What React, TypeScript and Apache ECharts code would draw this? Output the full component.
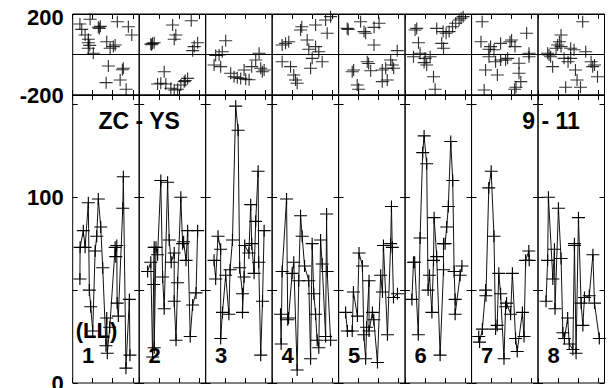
import React, { useEffect, useRef } from 'react';
import * as echarts from 'echarts';

// ---------- data ----------
const groupNames = ['1', '2', '3', '4', '5', '6', '7', '8'];
const leftTitle = 'ZC - YS';
const rightTitle = '9 - 11';
const unitLabel = '(LL)';
const topTickLabels = ['200', '-200'];
const bottomTickLabels = ['100', '0'];

// top panel scatter (x within group 0..33, y -200..200)
const top1 = [[8.7,174],[3.6,151],[4.5,124],[6.2,96],[7.8,75],[7.8,58],[13.3,129],[13.8,139],[12.8,135],[22.3,162],[27.8,137],[29.5,96],[17,63],[21.2,47],[20.3,39],[18.7,31],[7.8,31],[10.3,6],[8.5,45],[17.8,-57],[25.3,-68],[24.8,-75],[16.7,-139],[23.7,-126],[26.7,-172]];
const top2 = [[6.7,55],[5.8,52],[7.5,58],[6.2,48],[16.7,146],[26,167],[18.3,96],[17.5,75],[29.2,58],[27.5,39],[26.7,19],[12.5,-85],[10.8,-142],[13.3,-146],[15.8,-167],[19.2,-172],[20.8,-151],[22.5,-134],[24.2,-118],[9.2,-146],[17.5,-175],[23,-128]];
const top3 = [[10,68],[8.3,14],[6.7,-2],[5,-5],[4.2,-52],[7.5,-60],[12.5,-93],[14.2,-110],[15.8,-115],[17.5,-118],[20,-122],[21.7,-125],[19.2,-77],[25,-27],[26.7,6],[28.3,-85],[29.2,-77],[27.5,-68],[23,-60]];
const top4 = [[6.7,55],[5,47],[8.3,63],[14.2,121],[14.8,137],[21.7,146],[26.7,170],[29.2,187],[27.5,105],[17.5,72],[18.3,26],[21.7,39],[23.3,14],[20,-19],[25,-36],[19.2,-68],[5,-36],[9.2,-60],[10.8,-101],[12.5,-142],[11.7,-126]];
const top5 = [[4.3,129],[4.8,124],[11,162],[12.7,113],[13.5,105],[20.2,154],[17.7,134],[17.7,47],[29.3,19],[14.3,-36],[15,-44],[26,-27],[26.8,-52],[27.5,-68],[21.8,-77],[23.5,-68],[16,-80],[6.8,-85],[7.5,-77],[9.3,-151],[10,-172],[24.3,-126],[21.8,-134]];
const top6 = [[5,121],[5.8,129],[15.8,129],[19,113],[20.5,105],[22,113],[23.7,137],[25.3,154],[27,170],[28,179],[29,187],[6.7,58],[18.3,55],[19.2,31],[4.2,-11],[7.5,6],[10,-19],[10.8,-52],[12.5,-11],[14.2,-110],[15,-172],[9.5,-40]];
const top7 = [[5.3,162],[4.7,63],[9.5,39],[8.7,26],[11.2,23],[14.5,55],[19.2,63],[20,72],[21.7,39],[27.5,105],[28.7,6],[28.7,-11],[8.7,-11],[12,-36],[14.5,-27],[17,-27],[18,-19],[23.7,-43],[7,-77],[12.9,-101],[23.7,-93],[24.6,-134],[22.2,-162],[21.5,-172],[6.3,-175]];
const top8 = [[22.3,162],[11.5,96],[10.7,63],[9.8,47],[9,31],[11.5,39],[16.3,31],[18,23],[23.8,14],[4.8,6],[5.5,-2],[6.3,-11],[7.3,-60],[13,-19],[16.3,-19],[15,-36],[26.5,-36],[27.3,-60],[28.2,-52],[29.7,-110],[18.7,-77],[19.5,-126],[21.2,-162],[13.8,-162]];

// bottom panel lines (x within group 0..33, y 0..155)
const low1 = [[3.6,56],[3.7,73],[5.3,82],[6.2,73],[7.8,97],[8.3,50],[9,41],[10,28],[11.2,71],[12,79],[12.8,99],[14,84],[15,62],[16.6,20],[17,35],[17.3,16],[18.5,30],[21.2,73],[21.5,68],[22,74],[22.2,43],[22.8,36],[25,94],[25.3,111],[26.6,8],[28.3,45],[28.6,15]];
const low2 = [[4.2,60],[5.8,65],[6.7,14],[7.2,53],[7.5,73],[7.5,19],[8.4,73],[9.2,69],[10.8,109],[11.7,57],[12.5,40],[14.2,108],[15,77],[16,65],[17.5,70],[17.5,44],[18.4,23],[19.2,54],[20.8,100],[21.7,75],[22.2,76],[23.4,66],[24.2,82],[25.5,25],[26.7,42],[28.4,48.5],[29.2,82]];
const low3 = [[4.2,66],[5,56],[6.2,79],[7.5,72],[7.5,24],[8.4,38],[10,58],[11.6,37],[12.2,61],[13.4,77],[15,149],[16.2,136],[17,62],[18.4,48],[18.4,38],[19.2,57],[19.5,74],[21.6,70],[22.5,96],[23,75],[24.2,59],[25,87],[26.2,114],[26.5,65],[27.5,15],[28.4,44],[29.2,82]];
const low4 = [[4.2,37],[4.5,21],[5,60],[7.2,99],[7.8,34],[8.2,35],[10,59],[10.8,65],[12.5,7],[13.3,55],[14.2,90],[15,79],[16.2,63],[18.3,55],[19.2,13],[20,75],[20.8,48],[21.7,37],[22.5,23],[23.3,19],[24.2,77],[25,64],[26.7,25],[27.2,91],[27.5,60],[29.2,23]];
const low5 = [[3.5,38],[4.4,28],[6.8,28],[7.4,49],[9.4,36],[10.2,70],[11.9,63],[12.6,26],[13.5,13],[14,30],[15.2,55],[15.2,28],[16.9,38],[17.6,34],[19.4,11],[21,58],[21.9,49],[22.4,74],[24.4,26],[26,75],[26.4,95],[26.8,73],[27.4,46],[29.4,48]];
const low6 = [[3.4,45],[4.2,65],[4.8,65],[6.6,26],[7.5,78],[8.8,124],[9.5,133],[10.8,118],[11.5,50],[12.2,58],[13.4,38],[14.2,66],[14.5,89],[15.8,68],[17.5,15],[19.2,61],[19.2,75],[20,75],[20.8,84],[21.6,95],[22.8,130],[23.8,109],[24.5,60],[25,45],[25,37],[27.5,58],[28.4,63]];
const low7 = [[3.6,25],[4,22],[5.4,29],[7,50],[7.2,47],[8.6,105],[9.8,114],[11.2,79],[12,29],[12.8,31],[13.6,59],[14.5,48],[16.2,13],[17,41],[17.5,43],[19.5,37],[20.4,59],[22,24],[22.8,17],[25.4,38],[26.2,25],[27,66],[28.6,71],[28.8,66]];
const low8 = [[4,44],[4.8,66],[5.2,100],[7.4,56],[8.2,72],[8.5,40],[10.2,94],[11.5,67],[12.4,27],[13.2,24],[14.8,35],[15.6,21],[17.4,18],[18.2,75],[18.2,74],[19,16],[20.2,89],[21.5,43],[22.4,31],[23.2,46],[25.6,47],[27.4,69],[28.2,43],[30.6,24]];

const topSets = [top1, top2, top3, top4, top5, top6, top7, top8];
const lowSets = [low1, low2, low3, low4, low5, low6, low7, low8];

// ---------- layout ----------
const PLOT_LEFT = 72.7;
const PLOT_RIGHT = 604.5;
const GROUP_W = (PLOT_RIGHT - PLOT_LEFT) / 8;
const X_MAX = 33.2;
const FONT = '"Liberation Sans", Arial, sans-serif';
const PLUS = 'path://M0,6L12,6M6,0L6,12';

export default function App() {
  const ref = useRef<HTMLDivElement>(null);
  useEffect(() => {
    if (!ref.current) return;
    const chart = echarts.init(ref.current, undefined, { renderer: 'svg' });
    const grid: any[] = [];
    const xAxis: any[] = [];
    const yAxis: any[] = [];
    const series: any[] = [];
    const tick = { show: true, inside: true, length: 5, lineStyle: { color: '#000', width: 1 } };
    const noLine = { show: false, onZero: false };
    for (let p = 0; p < 2; p++) {
      for (let i = 0; i < 8; i++) {
        const g = p * 8 + i;
        grid.push({
          left: PLOT_LEFT + i * GROUP_W, width: GROUP_W,
          top: p === 0 ? 14 : 95, height: p === 0 ? 81 : 288,
          outerBoundsMode: 'none', containLabel: false,
          show: true, borderColor: '#000', borderWidth: 1, backgroundColor: 'transparent',
        });
        for (const pos of ['bottom', 'top']) {
          xAxis.push({
            type: 'value', gridIndex: g, position: pos, min: 0, max: X_MAX, interval: 10,
            axisLine: noLine, axisTick: tick, axisLabel: { show: false }, splitLine: { show: false },
          });
        }
        const yr = p === 0 ? { min: -200, max: 200, interval: 200 } : { min: 0, max: 155, interval: 50 };
        const labels = p === 0 ? topTickLabels : bottomTickLabels;
        yAxis.push({
          type: 'value', gridIndex: g, position: 'left', ...yr,
          axisLine: noLine, axisTick: tick,
          axisLabel: i === 0 ? {
            show: true, margin: 9, color: '#000', fontSize: 22, fontWeight: 'bold', fontFamily: FONT,
            formatter: (v: number) => {
              const s = String(v);
              if (!labels.includes(s)) return '';
              return s === '200' ? '{d|' + s + '}' : s;
            },
            rich: { d: { fontSize: 22, fontWeight: 'bold', fontFamily: FONT, color: '#000', padding: [6, 0, 0, 0] } },
          } : { show: false },
          splitLine: p === 0 ? { show: true, lineStyle: { color: '#000', width: 1 } } : { show: false },
        });
        yAxis.push({
          type: 'value', gridIndex: g, position: 'right', ...yr,
          axisLine: noLine, axisTick: tick, axisLabel: { show: false }, splitLine: { show: false },
        });
        const common = {
          xAxisIndex: 2 * g, yAxisIndex: 2 * g,
          symbol: PLUS, symbolSize: [13, 12],
          itemStyle: { color: 'rgba(0,0,0,0)', borderColor: '#000', borderWidth: 1.1 },
          silent: true,
        };
        if (p === 0) series.push({ type: 'scatter', data: topSets[i], ...common });
        else series.push({ type: 'line', data: lowSets[i], ...common, showAllSymbol: true, lineStyle: { color: '#111', width: 1 } });
      }
    }
    const txt = (text: string, x: number, y: number, size: number) => ({
      type: 'text', x, y, z: 100,
      style: { text, font: 'bold ' + size + 'px ' + FONT, fill: '#000', align: 'center', verticalAlign: 'middle' },
    });
    const graphic: any[] = [
      txt(leftTitle, PLOT_LEFT + GROUP_W, 121, 23),
      txt(rightTitle, 551, 121, 23),
      txt(unitLabel, 96.5, 330, 22),
      ...groupNames.map((n, i) => txt(n, PLOT_LEFT + i * GROUP_W + 15.5, 355, 22)),
    ];
    chart.setOption({ animation: false, grid, xAxis, yAxis, series, graphic });
    return () => chart.dispose();
  }, []);
  return <div ref={ref} style={{ position: 'fixed', left: 0, top: 0, width: 611, height: 388, background: '#fff' }} />;
}
